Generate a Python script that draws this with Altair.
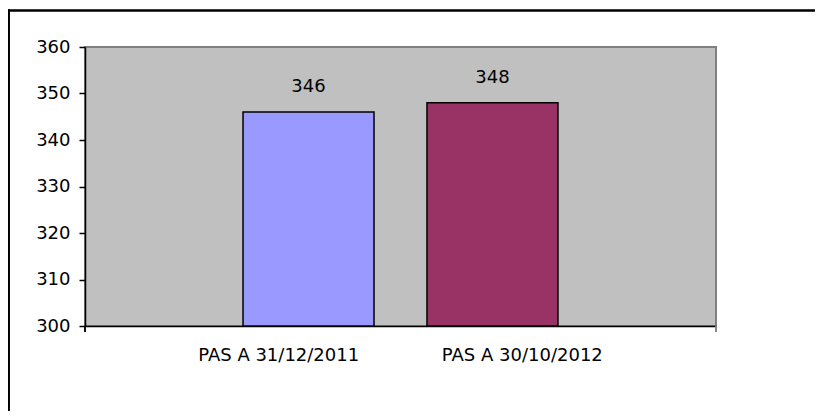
import altair as alt
import pandas as pd

categories = ["PAS A 31/12/2011", "PAS A 30/10/2012"]
values = [346, 348]
colors = ["#9999FF", "#993366"]
y_ticks = [300, 310, 320, 330, 340, 350, 360]

df = pd.DataFrame({"cat": categories, "val": values, "color": colors})

W, H = 631, 279
FONT = "DejaVu Sans"
FS = 18

xscale = alt.Scale(domain=categories, paddingInner=0.288, paddingOuter=0.859)
yscale = alt.Scale(domain=[300, 360], nice=False, zero=False)

base = alt.Chart(df)

bars = base.mark_bar(stroke="black", strokeWidth=1.5).encode(
    x=alt.X("cat:N", scale=xscale, sort=categories,
            axis=alt.Axis(labels=False, ticks=False, title=None,
                          domainColor="black", domainWidth=1.5)),
    y=alt.Y("val:Q", scale=yscale,
            axis=alt.Axis(values=y_ticks, title=None, grid=False,
                          domainColor="black", domainWidth=1.5,
                          tickColor="black", tickSize=6, tickWidth=1.5,
                          labelFont=FONT, labelFontSize=FS, labelColor="black",
                          labelPadding=9)),
    y2=alt.datum(300),
    color=alt.Color("color:N", scale=None),
)

value_labels = base.mark_text(font=FONT, fontSize=FS, color="black",
                              baseline="bottom", dy=-16).encode(
    x=alt.X("cat:N", scale=xscale, sort=categories, bandPosition=0.5),
    y=alt.Y("val:Q", scale=yscale),
    text=alt.Text("val:Q"),
)

main = alt.layer(bars, value_labels)

cat_labels = base.mark_text(font=FONT, fontSize=FS, color="black",
                            baseline="middle").encode(
    x=alt.X("cat:N", scale=alt.Scale(type="point", domain=categories, padding=0.795),
            sort=categories, axis=None),
    y=alt.value(H + 29.5),
    text="cat:N",
)

end_tick_left = base.mark_rule(color="black", strokeWidth=1.5).encode(
    x=alt.value(0), y=alt.value(H), y2=alt.value(H + 6))
end_tick_right = base.mark_rule(color="#808080", strokeWidth=1.5).encode(
    x=alt.value(W), y=alt.value(H), y2=alt.value(H + 6))

border_top = base.mark_rule(color="black", strokeWidth=2).encode(
    x=alt.value(-77), x2=alt.value(730), y=alt.value(-36.5))
border_left = base.mark_rule(color="black", strokeWidth=2).encode(
    x=alt.value(-76.2), y=alt.value(-37.5), y2=alt.value(364))

chart = alt.layer(
    main, end_tick_left, end_tick_right, border_top, border_left, cat_labels
).resolve_scale(x="independent").properties(
    width=W, height=H,
    autosize=alt.AutoSizeParams(type="none"),
    padding={"left": 77, "top": 39, "right": 99, "bottom": 85},
    background="white",
).configure_view(fill="#C0C0C0", stroke="#808080", strokeWidth=2)

chart.save("out.html", embed_options={"renderer": "svg", "actions": False})
